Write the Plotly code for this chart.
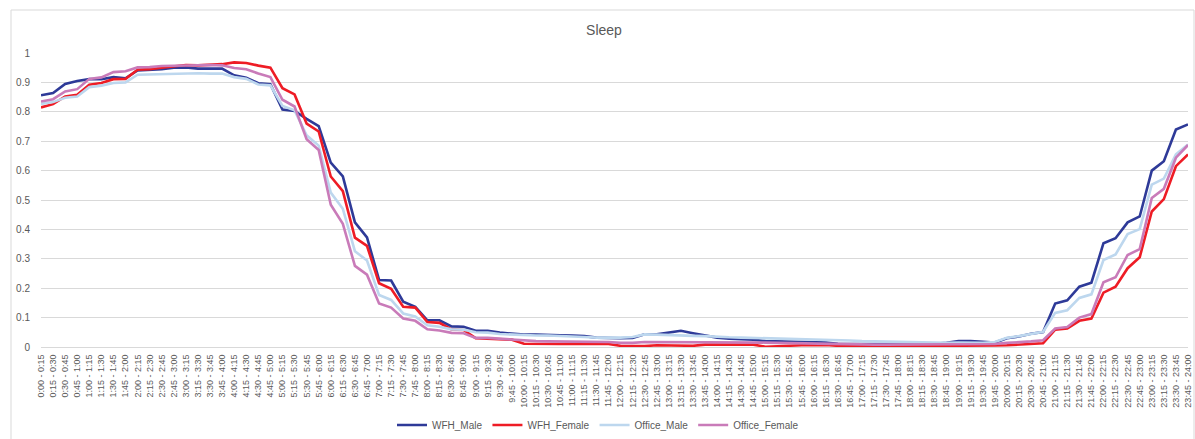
import plotly.graph_objects as go

# 15-minute slots across the day
slot_starts = [f"{h}:{m:02d}" for h in range(24) for m in (0, 15, 30, 45)]
slot_ends = slot_starts[1:] + ["24:00"]
time_slots = [f"{a} - {b}" for a, b in zip(slot_starts, slot_ends)]

wfh_male = [
    0.856, 0.864, 0.895, 0.905, 0.911, 0.911, 0.918, 0.914, 0.941, 0.942, 0.945, 0.950,
    0.951, 0.947, 0.947, 0.947, 0.924, 0.916, 0.897, 0.894, 0.808, 0.803, 0.776, 0.751,
    0.627, 0.580, 0.424, 0.373, 0.228, 0.226, 0.154, 0.137, 0.091, 0.091, 0.070, 0.069,
    0.055, 0.055, 0.049, 0.045, 0.042, 0.042, 0.042, 0.040, 0.039, 0.037, 0.032, 0.030,
    0.030, 0.031, 0.043, 0.043, 0.048, 0.055, 0.047, 0.040, 0.032, 0.028, 0.026, 0.025,
    0.020, 0.019, 0.018, 0.017, 0.016, 0.015, 0.011, 0.010, 0.010, 0.010, 0.010, 0.010,
    0.011, 0.011, 0.011, 0.014, 0.020, 0.020, 0.017, 0.015, 0.030, 0.036, 0.045, 0.051,
    0.148, 0.159, 0.205, 0.219, 0.353, 0.370, 0.424, 0.444, 0.600, 0.632, 0.740, 0.757,
]

wfh_female = [
    0.815, 0.826, 0.852, 0.858, 0.892, 0.898, 0.911, 0.912, 0.943, 0.945, 0.950, 0.955,
    0.959, 0.958, 0.959, 0.962, 0.968, 0.966, 0.957, 0.950, 0.880, 0.859, 0.760, 0.733,
    0.580, 0.530, 0.372, 0.344, 0.217, 0.198, 0.137, 0.134, 0.085, 0.082, 0.060, 0.058,
    0.030, 0.028, 0.026, 0.025, 0.011, 0.010, 0.010, 0.010, 0.011, 0.011, 0.011, 0.010,
    0.004, 0.003, 0.003, 0.006, 0.006, 0.006, 0.004, 0.008, 0.008, 0.008, 0.008, 0.008,
    0.001, 0.003, 0.004, 0.006, 0.006, 0.007, 0.004, 0.003, 0.003, 0.003, 0.003, 0.003,
    0.003, 0.003, 0.003, 0.003, 0.003, 0.004, 0.004, 0.005, 0.006, 0.008, 0.009, 0.013,
    0.059, 0.063, 0.089, 0.097, 0.185, 0.205, 0.268, 0.305, 0.461, 0.503, 0.615, 0.655,
]

office_male = [
    0.827, 0.833, 0.848, 0.852, 0.884, 0.889, 0.898, 0.900, 0.926, 0.927, 0.930, 0.931,
    0.932, 0.931, 0.930, 0.930, 0.918, 0.912, 0.893, 0.890, 0.820, 0.805, 0.720, 0.685,
    0.525, 0.470, 0.326, 0.294, 0.177, 0.160, 0.114, 0.104, 0.074, 0.069, 0.060, 0.059,
    0.050, 0.049, 0.044, 0.042, 0.040, 0.039, 0.039, 0.038, 0.037, 0.034, 0.032, 0.031,
    0.032, 0.034, 0.043, 0.042, 0.040, 0.040, 0.038, 0.037, 0.034, 0.033, 0.032, 0.031,
    0.031, 0.030, 0.028, 0.027, 0.026, 0.025, 0.024, 0.022, 0.020, 0.019, 0.017, 0.016,
    0.015, 0.014, 0.014, 0.014, 0.015, 0.015, 0.014, 0.017, 0.031, 0.037, 0.044, 0.052,
    0.116, 0.125, 0.167, 0.179, 0.296, 0.315, 0.384, 0.401, 0.552, 0.573, 0.655, 0.689,
]

office_female = [
    0.835, 0.843, 0.869, 0.877, 0.912, 0.917, 0.935, 0.938, 0.951, 0.952, 0.956, 0.957,
    0.959, 0.960, 0.959, 0.958, 0.949, 0.945, 0.930, 0.918, 0.841, 0.818, 0.707, 0.670,
    0.484, 0.419, 0.276, 0.246, 0.148, 0.134, 0.097, 0.089, 0.060, 0.056, 0.048, 0.047,
    0.031, 0.031, 0.028, 0.026, 0.021, 0.020, 0.019, 0.019, 0.018, 0.018, 0.017, 0.017,
    0.014, 0.014, 0.017, 0.017, 0.017, 0.017, 0.017, 0.017, 0.017, 0.017, 0.016, 0.016,
    0.015, 0.014, 0.013, 0.012, 0.012, 0.011, 0.010, 0.009, 0.008, 0.008, 0.008, 0.008,
    0.008, 0.008, 0.008, 0.008, 0.008, 0.008, 0.009, 0.010, 0.014, 0.016, 0.019, 0.023,
    0.063, 0.068, 0.100, 0.112, 0.220, 0.237, 0.313, 0.333, 0.507, 0.538, 0.644, 0.687,
]

series = [
    ("WFH_Male", wfh_male, "#2E3A98"),
    ("WFH_Female", wfh_female, "#EE1C25"),
    ("Office_Male", office_male, "#BDD7EE"),
    ("Office_Female", office_female, "#C97BB9"),
]

FONT = "Liberation Sans, Arial, sans-serif"
GREY_TEXT = "#595959"
GRID = "#D9D9D9"

fig = go.Figure()
for name, values, color in series:
    fig.add_trace(go.Scatter(
        x=time_slots, y=values, name=name, mode="lines",
        line=dict(color=color, width=2.6),
    ))

W, H = 1195, 439
L, R, T, B = 41, 7, 53, 92
pw, ph = W - L - R, H - T - B

def px_to_paper(xp, yp):
    return (xp - L) / pw, (H - B - yp) / ph

bx0, by1 = px_to_paper(11, 10)
bx1, by0 = px_to_paper(1194, 445)

fig.update_layout(
    width=W, height=H,
    margin=dict(l=L, r=R, t=T, b=B, pad=0, autoexpand=False),
    paper_bgcolor="white", plot_bgcolor="white",
    font=dict(family=FONT, color=GREY_TEXT),
    title=dict(text="Sleep", x=604 / W, xanchor="center", y=1 - 30 / H, yanchor="middle",
               font=dict(size=14, color=GREY_TEXT, family=FONT)),
    showlegend=True,
    legend=dict(orientation="h", xref="container", x=598 / W, xanchor="center",
                yref="container", y=1 - 425 / H, yanchor="middle",
                font=dict(size=10, color=GREY_TEXT, family=FONT),
                itemwidth=30, tracegroupgap=0, bgcolor="rgba(0,0,0,0)"),
    xaxis=dict(
        type="category", tickangle=-90, showgrid=False,
        showline=True, linecolor=GRID, linewidth=1,
        ticks="", tickfont=dict(size=9, color=GREY_TEXT, family=FONT),
        ticklabelstandoff=3, zeroline=False, fixedrange=True, automargin=False,
    ),
    yaxis=dict(
        range=[0, 1], dtick=0.1, tickformat="~g",
        showgrid=True, gridcolor=GRID, gridwidth=1,
        showline=False, zeroline=False, ticks="",
        tickfont=dict(size=10, color=GREY_TEXT, family=FONT),
        ticklabelstandoff=10, fixedrange=True, automargin=False,
    ),
    shapes=[dict(type="rect", xref="paper", yref="paper",
                 x0=bx0, x1=bx1, y0=by0, y1=by1,
                 line=dict(color=GRID, width=1), layer="below")],
)

fig.write_html("out.html")
